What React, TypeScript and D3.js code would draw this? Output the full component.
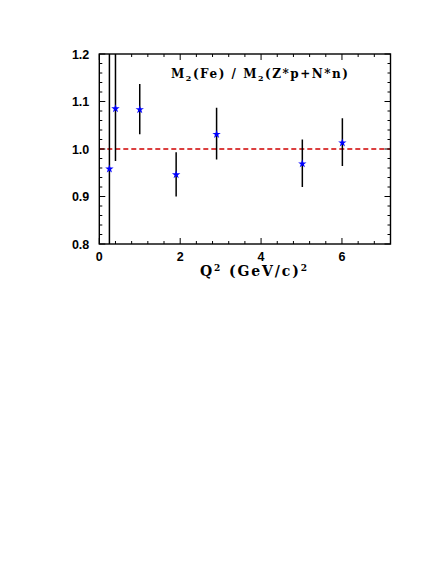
import * as d3 from 'd3'

// Q^2 (GeV/c)^2 of each point
const q2 = [0.25, 0.40, 1.00, 1.90, 2.90, 5.02, 6.01]
// ratio M2(Fe) / M2(Z*p+N*n)
const ratio = [0.959, 1.086, 1.084, 0.947, 1.032, 0.970, 1.014]
// error bar half-lengths
const errLow = [0.30, 0.111, 0.053, 0.047, 0.054, 0.050, 0.050]
const errHigh = [0.30, 0.115, 0.053, 0.046, 0.055, 0.050, 0.051]

const xMajorTicks = [0, 2, 4, 6]
const yMajorTicks = [0.8, 0.9, 1.0, 1.1, 1.2]
const yTickLabels = ['0.8', '0.9', '1.0', '1.1', '1.2']
const xDomain: [number, number] = [0, 7.2]
const yDomain: [number, number] = [0.8, 1.2]
const refLine = 1.0

const frame = { left: 99.3, right: 390.5, top: 54, bottom: 244 }

export default function App() {
  const x = d3.scaleLinear().domain(xDomain).range([frame.left, frame.right])
  const y = d3.scaleLinear().domain(yDomain).range([frame.bottom, frame.top])

  const xMinor = d3.range(0, 18.5).map(k => k * 0.4)
  const yMinor = d3.range(0, 20.5).map(k => 0.8 + k * 0.02)
  const isMajorX = (v: number) => Math.abs(v / 2 - Math.round(v / 2)) < 1e-6
  const isMajorY = (v: number) => Math.abs(v * 10 - Math.round(v * 10)) < 1e-6

  const star = d3.symbol().type(d3.symbolStar).size(22)()
  const ticks: JSX.Element[] = []
  xMinor.forEach((v, i) => {
    const len = isMajorX(v) ? 6 : 3
    const px = x(v)
    ticks.push(<line key={`xb${i}`} x1={px} x2={px} y1={frame.bottom} y2={frame.bottom - len} />)
    ticks.push(<line key={`xt${i}`} x1={px} x2={px} y1={frame.top} y2={frame.top + len} />)
  })
  yMinor.forEach((v, i) => {
    const len = isMajorY(v) ? 6 : 3
    const py = y(v)
    ticks.push(<line key={`yl${i}`} x1={frame.left} x2={frame.left + len} y1={py} y2={py} />)
    ticks.push(<line key={`yr${i}`} x1={frame.right} x2={frame.right - len} y1={py} y2={py} />)
  })

  return (
    <svg width={436} height={564} style={{ position: 'absolute', left: 0, top: 0, background: '#fff' }}>
      <defs>
        <clipPath id="plot-clip">
          <rect x={frame.left} y={frame.top} width={frame.right - frame.left} height={frame.bottom - frame.top} />
        </clipPath>
      </defs>

      {/* reference line at 1 */}
      <line x1={frame.left} x2={frame.right} y1={y(refLine)} y2={y(refLine)}
        stroke="#d00000" strokeWidth={1.3} strokeDasharray="5,3" />

      {/* error bars */}
      <g clipPath="url(#plot-clip)" stroke="#000" strokeWidth={1.5}>
        {q2.map((q, i) => (
          <line key={i} x1={x(q)} x2={x(q)} y1={y(ratio[i] - errLow[i])} y2={y(ratio[i] + errHigh[i])} />
        ))}
      </g>

      {/* markers */}
      <g fill="#0000ff">
        {q2.map((q, i) => (
          <path key={i} d={star ?? ''} transform={`translate(${x(q)},${y(ratio[i]) + 0.5})`} />
        ))}
      </g>

      {/* frame and ticks */}
      <g stroke="#000" strokeWidth={1}>{ticks}</g>
      <rect x={frame.left} y={frame.top} width={frame.right - frame.left} height={frame.bottom - frame.top}
        fill="none" stroke="#000" strokeWidth={1.4} />

      {/* tick labels */}
      <g fontFamily="'Liberation Sans', Arial, sans-serif" fontWeight="bold" fontSize={12.5} fill="#000">
        {xMajorTicks.map(v => (
          <text key={v} x={x(v)} y={frame.bottom + 17} textAnchor="middle">{v}</text>
        ))}
        {yMajorTicks.map((v, i) => (
          <text key={v} x={frame.left - 10} y={y(v) + 4.5} textAnchor="end">{yTickLabels[i]}</text>
        ))}
      </g>

      {/* title inside plot */}
      <text x={171} y={78} fontFamily="'DejaVu Serif', serif" fontWeight="bold" fontSize={12} fill="#000"
        textLength={177} lengthAdjust="spacing">
        M<tspan dy={3} fontSize={8}>2</tspan><tspan dy={-3}>(Fe) / M</tspan>
        <tspan dy={3} fontSize={8}>2</tspan><tspan dy={-3}>(Z*p+N*n)</tspan>
      </text>

      {/* x axis title */}
      <text x={200} y={276} fontFamily="'DejaVu Serif', serif" fontWeight="bold" fontSize={14} fill="#000"
        textLength={107} lengthAdjust="spacing">
        Q<tspan dy={-5} fontSize={9}>2</tspan><tspan dy={5}> (GeV/c)</tspan>
        <tspan dy={-5} fontSize={9}>2</tspan>
      </text>
    </svg>
  )
}
